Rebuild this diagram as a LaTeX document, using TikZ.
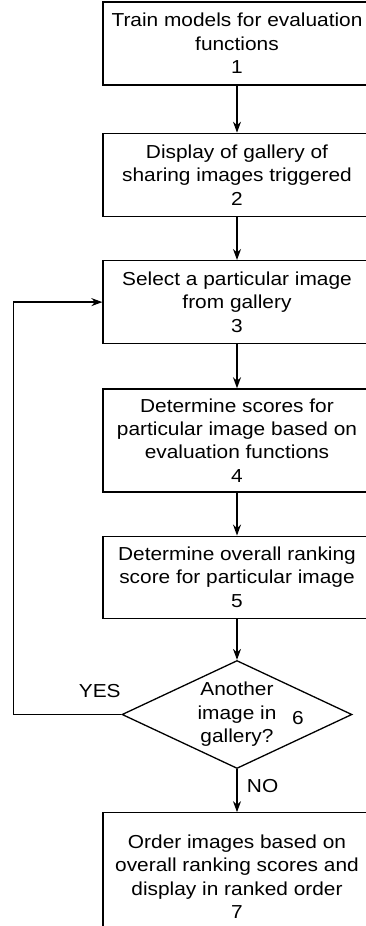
\documentclass[tikz,border=0pt]{standalone}
\usepackage{fontspec}
\setmainfont{Liberation Sans}[FakeStretch=1.11]
\usetikzlibrary{positioning,shapes.geometric,arrows.meta}
\newcommand{\flowfont}{\fontsize{18.8pt}{23.4pt}\selectfont}

\begin{document}
\begin{tikzpicture}[node distance=44pt, >={Stealth[length=11pt,width=8pt]},
                    every node/.style={font=\flowfont},
                    stepbox/.style={draw, line width=1.3pt, minimum width=268pt,
                                    minimum height=83pt, align=center, inner sep=2pt},
                    decbox/.style={draw, diamond, aspect=2.13, line width=1.3pt, inner sep=0pt,
                                   minimum width=230pt, minimum height=108pt, align=center},
                    flowarrow/.style={->, line width=1.3pt}]
  \useasboundingbox (0,0) rectangle (365pt,-926pt);
  \node[stepbox] (train) at (237pt,-43.5pt) {Train models for evaluation\\functions\\1};
  \node[stepbox, below=47pt of train]   (display) {Display of gallery of\\sharing images triggered\\2};
  \node[stepbox, below=43pt of display] (select)  {Select a particular image\\from gallery\\3};
  \node[stepbox, below=44pt of select, minimum height=103pt] (scores)
        {Determine scores for\\particular image based on\\evaluation functions\\4};
  \node[stepbox, below=43pt of scores, minimum height=82pt] (overall)
        {Determine overall ranking\\score for particular image\\5};
  \node[decbox, below=41pt of overall] (another) {Another\\image in\\gallery?};
  \node (six) at ([xshift=61pt,yshift=-4pt]another.center) {6};
  \node[stepbox, below=43pt of another, minimum height=128pt] (order)
        {Order images based on\\overall ranking scores and\\display in ranked order\\7};
  \coordinate (loop) at ([xshift=-108pt]another.west);
  \draw[flowarrow] (train)   -- (display);
  \draw[flowarrow] (display) -- (select);
  \draw[flowarrow] (select)  -- (scores);
  \draw[flowarrow] (scores)  -- (overall);
  \draw[flowarrow] (overall) -- (another);
  \draw[flowarrow] (another) -- node[right=6pt, pos=0.4] (nolabel) {NO} (order);
  \draw[flowarrow] (another.west) -- node[above=13pt, pos=0.2] (yeslabel) {YES} (loop) |- (select.west);
\end{tikzpicture}
\end{document}
